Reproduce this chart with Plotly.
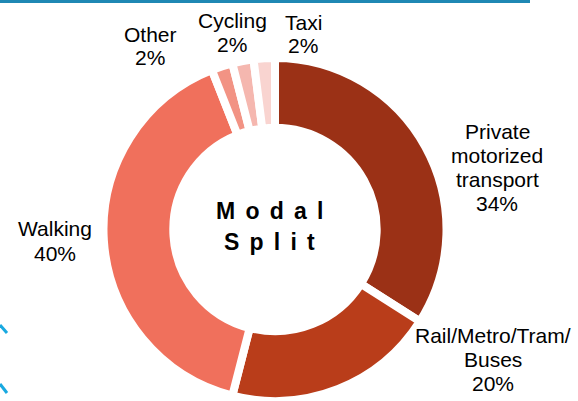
import plotly.graph_objects as go

W, H = 578, 401

categories = ["Private motorized transport", "Rail/Metro/Tram/Buses", "Walking", "Other", "Cycling", "Taxi"]
shares = [34, 20, 40, 2, 2, 2]
colors = ["#9b3116", "#b93d1a", "#f0705c", "#f29384", "#f5b7af", "#f9d4d0"]
label_lines = [
    ["Private", "motorized", "transport"],
    ["Rail/Metro/Tram/", "Buses"],
    ["Walking"],
    ["Other"],
    ["Cycling"],
    ["Taxi"],
]
# label anchor (center x, first line center y) in pixels
label_pos = [(497, 131), (493, 335), (55, 229), (150, 34), (232, 20), (303, 22)]
LINE_H = 24
GAP = "\u00a0\u2006"
title_lines = [GAP.join("Modal"), GAP.join("Split")]

cx, cy, R = 275, 230, 172

fig = go.Figure(go.Pie(
    labels=categories,
    values=shares,
    sort=False,
    direction="clockwise",
    rotation=0,
    hole=0.593,
    marker=dict(colors=colors, line=dict(color="white", width=8)),
    textinfo="none",
    showlegend=False,
    domain=dict(x=[(cx - R) / W, (cx + R) / W], y=[max(0, (H - cy - R) / H), (H - cy + R) / H]),
))

font = dict(family="Liberation Sans, Arial, sans-serif", size=21, color="#000000")
ann = []
for lines, v, (x, y0) in zip(label_lines, shares, label_pos):
    for i, t in enumerate(lines + [f"{v}%"]):
        ann.append(dict(x=x / W, y=1 - (y0 + i * LINE_H) / H, xref="paper", yref="paper",
                        text=t, showarrow=False, xanchor="center", yanchor="middle", font=font))
for i, t in enumerate(title_lines):
    ann.append(dict(x=269 / W, y=1 - (211 + i * 31) / H, xref="paper", yref="paper",
                    text=f"<b>{t}</b>", showarrow=False, xanchor="center", yanchor="middle",
                    font=dict(family="Liberation Sans, Arial, sans-serif", size=23, color="#000000")))

shapes = [
    dict(type="line", xref="paper", yref="paper", x0=0, x1=530 / W, y0=1 - 1.5 / H, y1=1 - 1.5 / H,
         line=dict(color="#1f88b4", width=3)),
    dict(type="line", xref="paper", yref="paper", x0=0, x1=7 / W, y0=1 - 325 / H, y1=1 - 333 / H,
         line=dict(color="#19a9e0", width=3)),
    dict(type="line", xref="paper", yref="paper", x0=0, x1=7 / W, y0=1 - 384 / H, y1=1 - 393 / H,
         line=dict(color="#19a9e0", width=3)),
]

fig.update_layout(width=W, height=H, margin=dict(l=0, r=0, t=0, b=0),
                  paper_bgcolor="white", plot_bgcolor="white",
                  annotations=ann, shapes=shapes)
fig.write_html("out.html", config={"displayModeBar": False},
               post_script="document.body.style.margin='0';document.body.style.overflow='hidden';")
